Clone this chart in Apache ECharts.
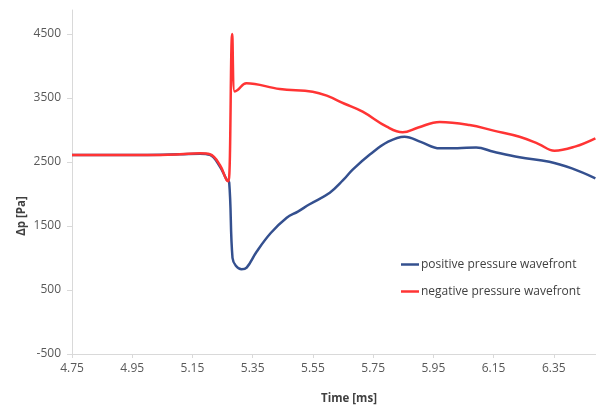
<!DOCTYPE html>
<html>
<head>
<meta charset="utf-8">
<script src="https://cdn.jsdelivr.net/npm/echarts@6/dist/echarts.min.js"></script>
<style>html,body{margin:0;padding:0;background:#fff}#c{width:596px;height:409px}</style>
</head>
<body>
<div id="c"></div>
<script>
// ---- data (time in ms, pressure difference in Pa) ----
const tRed = [4.75, 5.00, 5.108, 5.175, 5.208, 5.241, 5.263, 5.270, 5.282, 5.290, 5.300, 5.329, 5.44, 5.549, 5.596, 5.655, 5.715, 5.795, 5.848, 5.90, 5.971, 6.07, 6.15, 6.236, 6.30, 6.352, 6.42, 6.488];
const negWave = [2610, 2610, 2620, 2635, 2620, 2453, 2219, 2200, 4500, 3600, 3625, 3730, 3640, 3598, 3536, 3410, 3286, 3052, 2964, 3040, 3125, 3078, 2990, 2895, 2780, 2677, 2740, 2870];

const tBlue = [4.75, 5.00, 5.108, 5.175, 5.208, 5.241, 5.263, 5.272, 5.283, 5.294, 5.313, 5.330, 5.363, 5.41, 5.463, 5.50, 5.539, 5.606, 5.65, 5.682, 5.74, 5.80, 5.854, 5.91, 5.971, 6.03, 6.092, 6.15, 6.236, 6.335, 6.41, 6.488];
const posWave = [2610, 2610, 2620, 2630, 2610, 2430, 2230, 2180, 1000, 880, 823, 850, 1098, 1390, 1630, 1725, 1840, 2020, 2215, 2380, 2620, 2817, 2895, 2810, 2714, 2715, 2727, 2660, 2573, 2505, 2400, 2245];

const xTicks = [4.75, 4.95, 5.15, 5.35, 5.55, 5.75, 5.95, 6.15, 6.35];
const yTicks = [-500, 500, 1500, 2500, 3500, 4500];
const seriesNames = ['positive pressure wavefront', 'negative pressure wavefront'];

const FONT = '"Open Sans", "Liberation Sans", sans-serif';
const chart = echarts.init(document.getElementById('c'), null, {renderer: 'canvas'});
chart.setOption({
  animation: false,
  backgroundColor: '#ffffff',
  grid: {left: 72, right: 0, top: 10, bottom: 55, containLabel: false},
  xAxis: {
    type: 'value', min: 4.75, max: 6.49,
    axisLine: {show: true, onZero: false, lineStyle: {color: '#d9d9d9', width: 1}},
    axisTick: {show: true, length: 4, lineStyle: {color: '#d9d9d9'}, customValues: xTicks},
    axisLabel: {customValues: xTicks, formatter: v => v.toFixed(2), color: '#595959', fontSize: 12, fontFamily: FONT, margin: 9},
    splitLine: {show: false}
  },
  yAxis: {
    type: 'value', min: -500, max: 4875,
    axisLine: {show: true, onZero: false, lineStyle: {color: '#d9d9d9', width: 1}},
    axisTick: {show: true, length: 5, lineStyle: {color: '#d9d9d9'}, customValues: yTicks},
    axisLabel: {customValues: yTicks, formatter: v => String(v), color: '#595959', fontSize: 12, fontFamily: FONT, margin: 11},
    splitLine: {show: false}
  },
  legend: {
    orient: 'vertical', left: 401, top: 256, padding: 0,
    icon: 'rect', itemWidth: 18, itemHeight: 2.5, itemGap: 10,
    data: seriesNames,
    textStyle: {color: '#404040', fontSize: 12, fontFamily: FONT, padding: [0, 0, 0, -3], lineHeight: 17}
  },
  graphic: [
    {type: 'text', x: 349, y: 399, style: {text: 'Time [ms]', font: 'bold 11.5px ' + FONT, fill: '#404040', align: 'center', verticalAlign: 'middle'}},
    {type: 'text', x: 22, y: 216, rotation: Math.PI / 2, style: {text: 'Δp [Pa]', font: 'bold 11.5px ' + FONT, fill: '#404040', align: 'center', verticalAlign: 'middle'}}
  ],
  series: [
    {
      name: seriesNames[0], type: 'line', symbol: 'none', smooth: 0.4,
      data: tBlue.map((t, i) => [t, posWave[i]]),
      lineStyle: {color: '#34508f', width: 2.5}, itemStyle: {color: '#34508f'}
    },
    {
      name: seriesNames[1], type: 'line', symbol: 'none', smooth: 0.4,
      data: tRed.map((t, i) => [t, negWave[i]]),
      lineStyle: {color: '#ff3434', width: 2.5}, itemStyle: {color: '#ff3434'}
    }
  ]
});
</script>
</body>
</html>
